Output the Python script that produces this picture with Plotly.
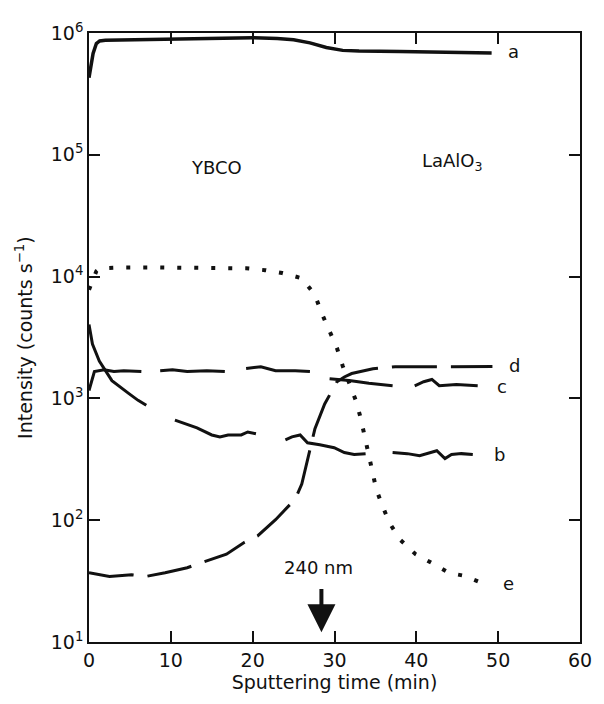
import math
import plotly.graph_objects as go

# ---- data ----
a_time = [0, 0.2, 0.5, 0.9, 1.3, 2, 5, 10, 15, 20, 23, 25, 27, 29, 31, 33, 38, 44, 49.2]
a_counts = [4.3e5, 5.2e5, 6.8e5, 8.2e5, 8.6e5, 8.7e5, 8.75e5, 8.9e5, 9.0e5, 9.15e5, 9.0e5,
            8.8e5, 8.3e5, 7.6e5, 7.2e5, 7.1e5, 7.05e5, 6.95e5, 6.85e5]

b_time = [0, 0.42, 1.26, 2.8, 4.84, 6.0, 7.0, None,
          10.5, 13.2, 15.0, 16.0, 17.0, 18.6, 19.4, 20.4, None,
          24.0, 24.8, 25.8, 26.7, 28.2, 29.96, 31.2, 32.4, 33.8, None,
          37.1, 38.9, 40.4, 41.6, 42.5, 43.5, 44.3, 45.5, 46.9]
b_counts = [4050, 2790, 2030, 1400, 1100, 964, 877, None,
            663, 572, 501, 483, 501, 501, 530, 512, None,
            457, 483, 501, 432, 416, 394, 359, 346, 352, None,
            359, 352, 339, 359, 372, 321, 346, 352, 346]

c_time = [0, 0.66, 1.85, 3.05, 4.25, 6.4, None,
          8.7, 10.2, 12.0, 14.4, 16.6, None,
          19.2, 21.0, 22.8, 25.2, 27.0, None,
          29.4, 31.8, 34.2, 37.1, None,
          39.8, 40.9, 41.9, 42.8, 44.9, 47.5]
c_counts = [1160, 1660, 1720, 1660, 1690, 1660, None,
            1690, 1720, 1660, 1690, 1660, None,
            1760, 1820, 1690, 1690, 1660, None,
            1450, 1400, 1330, 1270, None,
            1270, 1370, 1430, 1270, 1300, 1270]

d_time = [0, 1.3, 2.5, 5.2, 6.9, 9.3, 12.0, 13.6, 16.8, 19.0, 20.6, 22.8, 25.2, 26.0,
          26.8, 27.6, 28.8, 30.3, 31.2, 32.1, 34.7, 37.4, 44.3, 49.3]
d_counts = [37, 35.6, 34.5, 35.6, 34.5, 37, 40.7, 44.5, 52.6, 65.8, 74.3, 101, 149, 198,
            330, 560, 900, 1370, 1500, 1600, 1750, 1820, 1820, 1830]

e_time = [0, 0.9, 1.3, 4, 7.2, 10, 13.2, 16, 19.2, 21.5, 23.6, 26.0, 27.6, 28.4, 29.4,
          30.3, 31.0, 32.6, 33.2, 33.7, 34.6, 35.1, 35.8, 36.7, 38.0, 39.9, 41.9, 44.0,
          45.9, 48.0]
e_counts = [7.8e3, 1.11e4, 1.17e4, 1.19e4, 1.19e4, 1.18e4, 1.17e4, 1.17e4, 1.17e4, 1.13e4,
            1.07e4, 9.7e3, 7.1e3, 5.07e3, 3.63e3, 2.59e3, 1.85e3, 964, 689, 492, 261, 180,
            134, 95.5, 69.5, 52.6, 44.5, 36.9, 34.9, 30.6]

x_ticks = [0, 10, 20, 30, 40, 50, 60]
y_ticks = [1e1, 1e2, 1e3, 1e4, 1e5, 1e6]
y_ticktext = ["10<sup>1</sup>", "10<sup>2</sup>", "10<sup>3</sup>",
              "10<sup>4</sup>", "10<sup>5</sup>", "10<sup>6</sup>"]

curve_labels = ["a", "b", "c", "d", "e"]
label_pos_time = [50.9, 49.3, 49.6, 51.1, 50.4]
label_pos_counts = [7.0e5, 3.45e2, 1.25e3, 1.85e3, 30.0]

region_labels = ["YBCO", "LaAlO<sub>3</sub>"]
region_time = [15.6, 44.4]
region_counts = [7.9e4, 8.7e4]

interface_label = "240 nm"
interface_time = 28.4

FONT = "DejaVu Sans, Verdana, sans-serif"
BLACK = "#111111"

fig = go.Figure()
fig.add_trace(go.Scatter(x=a_time, y=a_counts, mode="lines",
                         line=dict(color=BLACK, width=3.5), hoverinfo="skip"))
fig.add_trace(go.Scatter(x=b_time, y=b_counts, mode="lines", connectgaps=False,
                         line=dict(color=BLACK, width=3), hoverinfo="skip"))
fig.add_trace(go.Scatter(x=c_time, y=c_counts, mode="lines", connectgaps=False,
                         line=dict(color=BLACK, width=3), hoverinfo="skip"))
fig.add_trace(go.Scatter(x=d_time, y=d_counts, mode="lines",
                         line=dict(color=BLACK, width=3, dash="45px,14px"), hoverinfo="skip"))
fig.add_trace(go.Scatter(x=e_time, y=e_counts, mode="lines",
                         line=dict(color=BLACK, width=4, dash="4px,13px"), hoverinfo="skip"))

annotations = []
for t, xv, yv in zip(curve_labels, label_pos_time, label_pos_counts):
    annotations.append(dict(x=xv, y=math.log10(yv), xref="x", yref="y", text=t,
                            showarrow=False, xanchor="left", yanchor="middle",
                            font=dict(family=FONT, size=18, color=BLACK)))
for t, xv, yv in zip(region_labels, region_time, region_counts):
    annotations.append(dict(x=xv, y=math.log10(yv), xref="x", yref="y", text=t,
                            showarrow=False, xanchor="center", yanchor="middle",
                            font=dict(family=FONT, size=18, color=BLACK)))
annotations.append(dict(x=interface_time - 0.3, y=math.log10(41), xref="x", yref="y",
                        text=interface_label, showarrow=False, xanchor="center",
                        yanchor="middle", font=dict(family=FONT, size=18, color=BLACK)))
annotations.append(dict(x=interface_time, y=math.log10(12.0), xref="x", yref="y",
                        ax=interface_time, ay=math.log10(28), axref="x", ayref="y",
                        text="", showarrow=True, arrowhead=2, arrowsize=1.4,
                        arrowwidth=4, arrowcolor=BLACK))
annotations.append(dict(x=-0.1335, y=0.5, xref="paper", yref="paper",
                        text="Intensity (counts s<sup>\u22121</sup>)", textangle=-90,
                        showarrow=False, xanchor="center", yanchor="middle",
                        font=dict(family=FONT, size=19, color=BLACK)))

fig.update_layout(
    width=596, height=696,
    margin=dict(l=81, r=13, t=17, b=62),
    paper_bgcolor="white", plot_bgcolor="white",
    showlegend=False,
    annotations=annotations,
    font=dict(family=FONT, size=19, color=BLACK),
)
fig.update_xaxes(range=[0, 60], tickvals=x_ticks, ticks="inside", ticklen=11,
                 tickwidth=1.5, tickcolor=BLACK, showline=True, linecolor=BLACK,
                 linewidth=1.5, mirror="ticks", showgrid=False, zeroline=False,
                 tickfont=dict(family=FONT, size=19, color=BLACK),
                 title=dict(text="Sputtering time (min)", standoff=6,
                            font=dict(family=FONT, size=19, color=BLACK)))
fig.update_yaxes(type="log", range=[1, 6], tickvals=y_ticks, ticktext=y_ticktext,
                 ticks="inside", ticklen=11, tickwidth=1.5, tickcolor=BLACK,
                 showline=True, linecolor=BLACK, linewidth=1.5, mirror="ticks",
                 showgrid=False, zeroline=False,
                 tickfont=dict(family=FONT, size=19, color=BLACK))

fig.write_html("out.html")
